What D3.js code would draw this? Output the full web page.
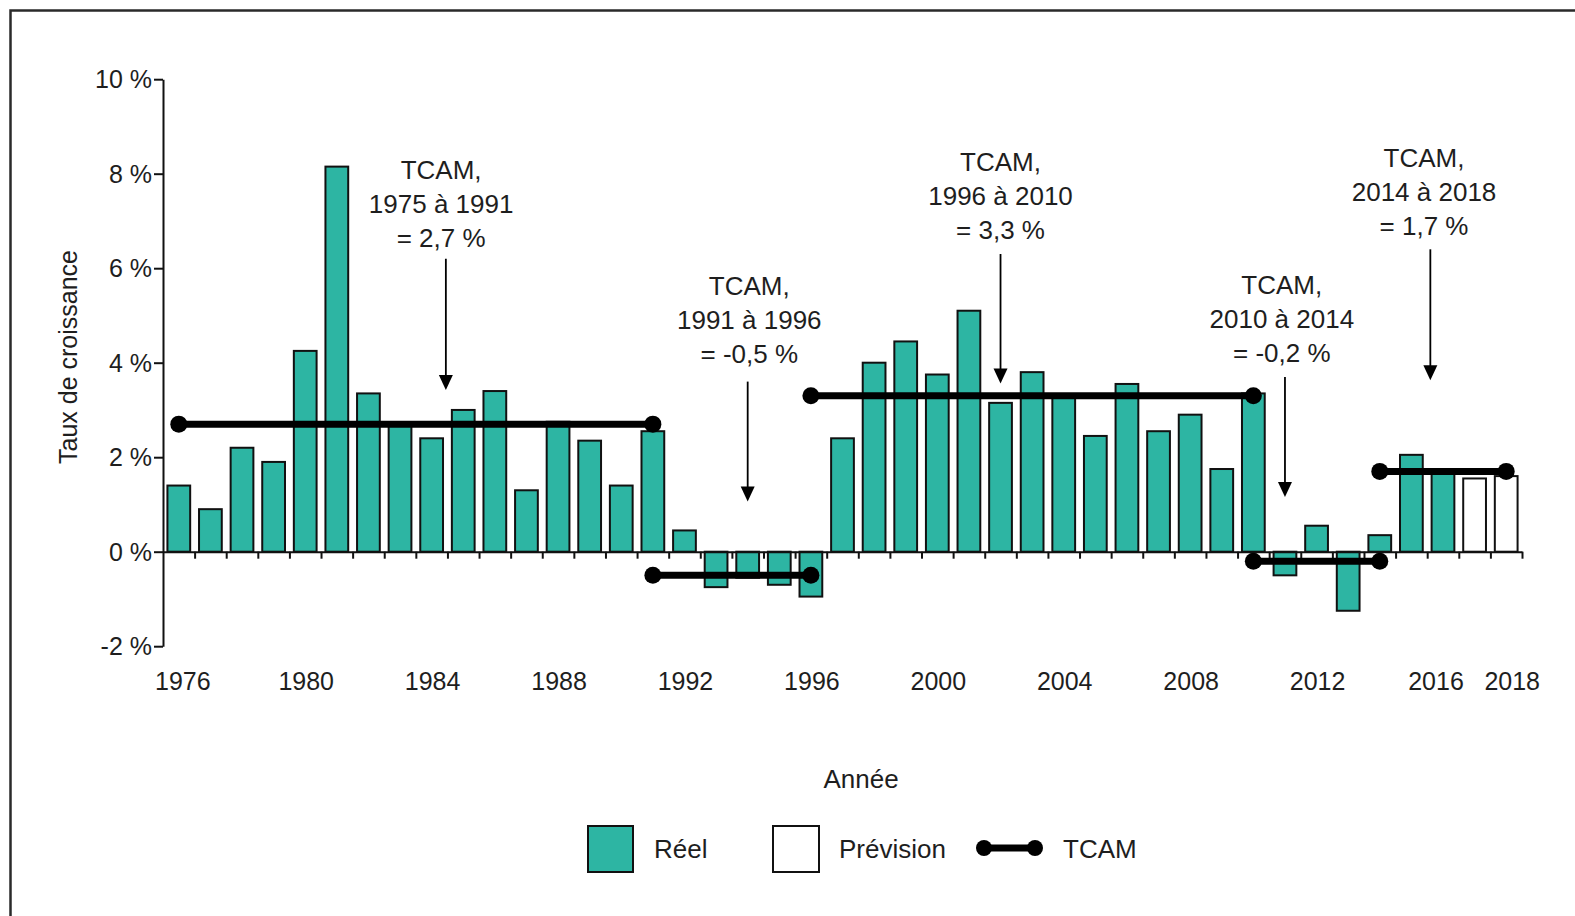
<!DOCTYPE html>
<html>
<head>
<meta charset="utf-8">
<script src="https://cdn.jsdelivr.net/npm/d3@7"></script>
<style>
  html, body { margin: 0; padding: 0; background: #fff; }
  svg { display: block; font-family: "Liberation Sans", Arial, sans-serif; }
  text { fill: #1e1e1e; }
</style>
</head>
<body>
<svg id="chart" width="1575" height="916"></svg>
<script>
// ---------- DATA ----------
const years = d3.range(1976, 2019);
const growth = [
  1.4, 0.9, 2.2, 1.9, 4.25, 8.15, 3.35, 2.7, 2.4, 3.0,
  3.4, 1.3, 2.75, 2.35, 1.4, 2.55, 0.45, -0.75, -0.55, -0.7,
  -0.95, 2.4, 4.0, 4.45, 3.75, 5.1, 3.15, 3.8, 3.3, 2.45,
  3.55, 2.55, 2.9, 1.75, 3.35, -0.5, 0.55, -1.25, 0.35, 2.05,
  1.7, 1.55, 1.6
];
const forecastYears = [2017, 2018];
const xTickLabels = [1976, 1980, 1984, 1988, 1992, 1996, 2000, 2004, 2008, 2012, 2016, 2018];
const yTickValues = [-2, 0, 2, 4, 6, 8, 10];

const tcamStart = [1976, 1991, 1996, 2010, 2014];
const tcamEnd   = [1991, 1996, 2010, 2014, 2018];
const tcamValue = [2.7, -0.5, 3.3, -0.2, 1.7];
const tcamLabel = [
  ["TCAM,", "1975 à 1991", "= 2,7 %"],
  ["TCAM,", "1991 à 1996", "= -0,5 %"],
  ["TCAM,", "1996 à 2010", "= 3,3 %"],
  ["TCAM,", "2010 à 2014", "= -0,2 %"],
  ["TCAM,", "2014 à 2018", "= 1,7 %"]
];

// ---------- LAYOUT ----------
const svg = d3.select("#chart");
const X0 = 163, X1 = 1522;
const x = d3.scaleBand().domain(years).range([X0, X1]).paddingInner(0.28).paddingOuter(0.14);
const xb = d3.scaleLinear().domain([1975.5, 2018.5]).range([X0, X1]); // boundaries / fractional years
const y = d3.scaleLinear().domain([-2, 10]).range([646.2, 79.2]);
const cx = yr => x(yr) + x.bandwidth() / 2;

// frame
svg.append("path")
  .attr("d", "M10.5,916 L10.5,10.5 L1575,10.5")
  .attr("fill", "none").attr("stroke", "#2a2a2a").attr("stroke-width", 2.5);

// y axis
const yAxis = svg.append("g").attr("transform", `translate(${X0},0)`)
  .call(d3.axisLeft(y).tickValues(yTickValues).tickSize(9).tickPadding(2)
    .tickSizeOuter(0).tickFormat(d => d + " %"));
yAxis.select(".domain").attr("stroke", "#111").attr("stroke-width", 2);
yAxis.selectAll(".tick line").attr("stroke", "#111").attr("stroke-width", 2);
yAxis.selectAll(".tick text").attr("font-size", 25).attr("font-family", "Liberation Sans, Arial, sans-serif")
  .attr("fill", "#1e1e1e").attr("dy", "0.35em");

// bars
const barData = years.map((yr, i) => ({ year: yr, value: growth[i], forecast: forecastYears.includes(yr) }));
svg.append("g").selectAll("rect").data(barData).join("rect")
  .attr("x", d => x(d.year))
  .attr("width", x.bandwidth())
  .attr("y", d => y(Math.max(0, d.value)))
  .attr("height", d => Math.abs(y(d.value) - y(0)))
  .attr("fill", d => d.forecast ? "#ffffff" : "#2db5a3")
  .attr("stroke", "#111").attr("stroke-width", 2);

// x axis (zero line with ticks at band boundaries)
const xAxis = svg.append("g").attr("transform", `translate(0,${y(0)})`)
  .call(d3.axisBottom(xb).tickValues(d3.range(1976.5, 2019, 1)).tickSize(7).tickSizeOuter(0).tickFormat(""));
xAxis.select(".domain").attr("stroke", "#111").attr("stroke-width", 2);
xAxis.selectAll(".tick line").attr("stroke", "#111").attr("stroke-width", 2);

const labelNudge = { 1976: 3, 2016: -8, 2018: 5 };
svg.append("g").selectAll("text").data(xTickLabels).join("text")
  .attr("x", d => cx(d) + 1 + (labelNudge[d] || 0)).attr("y", 690)
  .attr("text-anchor", "middle").attr("font-size", 25)
  .text(d => d);

// TCAM lines
const tcam = tcamStart.map((s, i) => ({ s, e: tcamEnd[i], v: tcamValue[i] }));
const tg = svg.append("g");
tg.selectAll("line").data(tcam).join("line")
  .attr("x1", d => cx(d.s)).attr("x2", d => cx(d.e))
  .attr("y1", d => y(d.v)).attr("y2", d => y(d.v))
  .attr("stroke", "#000").attr("stroke-width", 7);
tg.selectAll("circle.s").data(tcam).join("circle").attr("class", "s")
  .attr("cx", d => cx(d.s)).attr("cy", d => y(d.v)).attr("r", 8.5).attr("fill", "#000");
tg.selectAll("circle.e").data(tcam).join("circle").attr("class", "e")
  .attr("cx", d => cx(d.e)).attr("cy", d => y(d.v)).attr("r", 8.5).attr("fill", "#000");

// annotations: arrow position (fractional year), arrow top/tip (value), first text line centre (px)
const annLayout = [
  { ax: 1984.45, top: 6.2, tip: 3.42, ty: 170, tx: 1984.3 },
  { ax: 1994.0, top: 3.6, tip: 1.06, ty: 286, tx: 1994.05 },
  { ax: 2002.0, top: 6.3, tip: 3.56, ty: 162, tx: 2002.0 },
  { ax: 2011.0, top: 3.7, tip: 1.16, ty: 285, tx: 2010.9 },
  { ax: 2015.6, top: 6.4, tip: 3.63, ty: 158, tx: 2015.4 }
];
const ag = svg.append("g");
annLayout.forEach((a, i) => {
  const ax = xb(a.ax);
  const tipY = y(a.tip);
  ag.append("line").attr("x1", ax).attr("x2", ax)
    .attr("y1", y(a.top)).attr("y2", tipY - 10)
    .attr("stroke", "#000").attr("stroke-width", 1.8);
  ag.append("path")
    .attr("d", `M${ax - 7},${tipY - 15} L${ax + 7},${tipY - 15} L${ax},${tipY} Z`)
    .attr("fill", "#000");
  const t = ag.append("text").attr("text-anchor", "middle").attr("font-size", 26);
  tcamLabel[i].forEach((line, j) => {
    t.append("tspan").attr("x", xb(a.tx)).attr("y", a.ty + j * 34).attr("dy", "0.35em").text(line);
  });
});

// axis titles
svg.append("text")
  .attr("transform", "translate(68,357) rotate(-90)")
  .attr("text-anchor", "middle").attr("dy", "0.35em").attr("font-size", 25)
  .text("Taux de croissance");
svg.append("text").attr("x", 861).attr("y", 779).attr("dy", "0.35em")
  .attr("text-anchor", "middle").attr("font-size", 26).text("Année");

// legend
const lg = svg.append("g");
lg.append("rect").attr("x", 588).attr("y", 826).attr("width", 45).attr("height", 46)
  .attr("fill", "#2db5a3").attr("stroke", "#111").attr("stroke-width", 2);
lg.append("text").attr("x", 654).attr("y", 849).attr("dy", "0.35em").attr("font-size", 26).text("Réel");
lg.append("rect").attr("x", 773).attr("y", 826).attr("width", 46).attr("height", 46)
  .attr("fill", "#fff").attr("stroke", "#111").attr("stroke-width", 2);
lg.append("text").attr("x", 839).attr("y", 849).attr("dy", "0.35em").attr("font-size", 26).text("Prévision");
lg.append("line").attr("x1", 984).attr("x2", 1035).attr("y1", 848).attr("y2", 848)
  .attr("stroke", "#000").attr("stroke-width", 7);
lg.append("circle").attr("cx", 984).attr("cy", 848).attr("r", 8).attr("fill", "#000");
lg.append("circle").attr("cx", 1035).attr("cy", 848).attr("r", 8).attr("fill", "#000");
lg.append("text").attr("x", 1063).attr("y", 849).attr("dy", "0.35em").attr("font-size", 26).text("TCAM");
</script>
</body>
</html>
